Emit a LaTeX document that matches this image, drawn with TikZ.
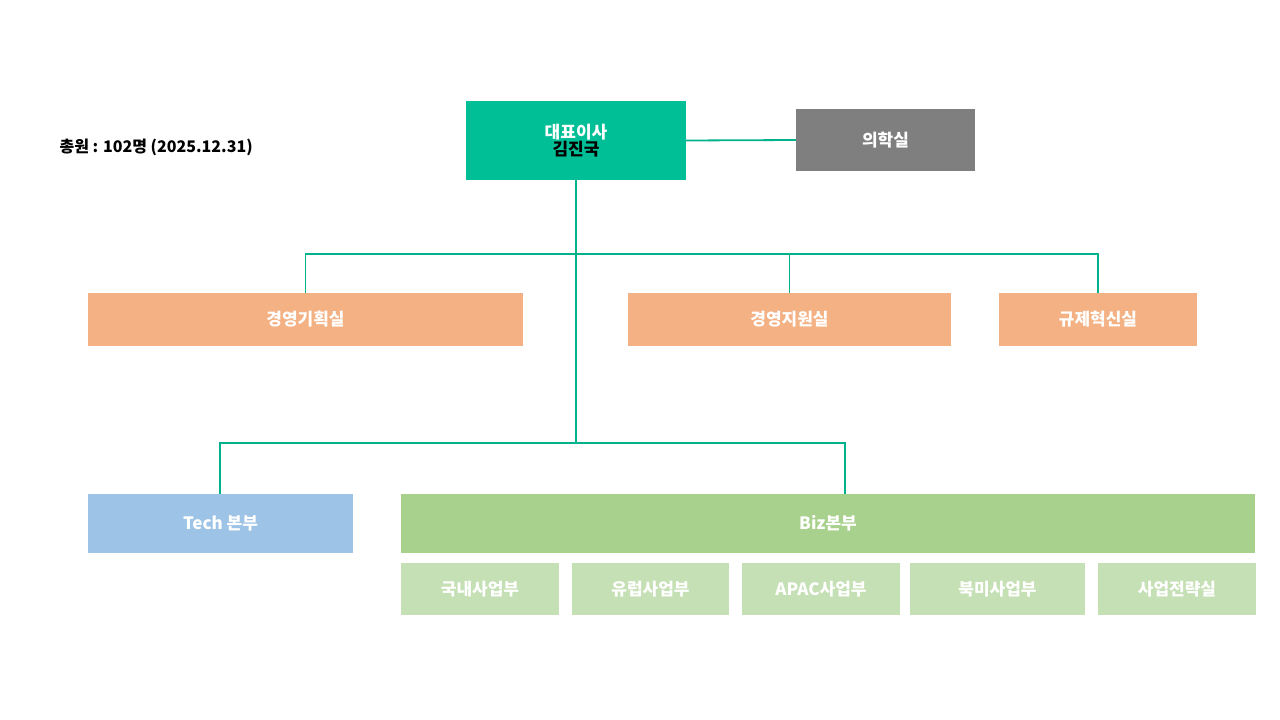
\documentclass[tikz,border=0pt]{standalone}
\usepackage{fontspec}
\setmainfont{Noto Sans CJK KR}
\begin{document}
\begin{tikzpicture}[x=1pt,y=-1pt,
  box/.style={draw=none,inner sep=0pt,font=\fontsize{17}{20}\selectfont\bfseries,text=white},
  ln/.style={draw={rgb,255:red,0;green,178;blue,140},line width=1.8pt}]
\definecolor{teal}{RGB}{0,190,150}
\definecolor{gry}{RGB}{127,127,127}
\definecolor{salmon}{RGB}{244,177,131}
\definecolor{blu}{RGB}{157,195,230}
\definecolor{grn}{RGB}{169,209,142}
\definecolor{lgrn}{RGB}{197,224,180}
\useasboundingbox (0,0) rectangle (1280,720);
\newcommand{\bx}[6]{\node[box,fill=#5,minimum width=#3-#2,minimum height=#4-#1,align=center] (#6) at ({(#2+#3)/2},{(#1+#4)/2})}
\bx{101}{466}{686}{180}{teal}{ceo}{\textcolor{white}{대표이사}\\[-3pt]\textcolor{black}{김진국}};
\bx{109}{796}{975}{171}{gry}{med}{의학실};
\bx{293}{88}{523}{346}{salmon}{plan}{경영기획실};
\bx{293}{628}{951}{346}{salmon}{supp}{경영지원실};
\bx{293}{999}{1197}{346}{salmon}{reg}{규제혁신실};
\bx{494}{88}{353}{553}{blu}{tech}{Tech 본부};
\bx{494}{401}{1255}{553}{grn}{biz}{Biz본부};
\bx{563}{401}{559}{615}{lgrn}{s1}{국내사업부};
\bx{563}{572}{729}{615}{lgrn}{s2}{유럽사업부};
\bx{563}{742}{900}{615}{lgrn}{s3}{APAC사업부};
\bx{563}{910}{1085}{615}{lgrn}{s4}{북미사업부};
\bx{563}{1098}{1256}{615}{lgrn}{s5}{사업전략실};
\node[anchor=west,font=\fontsize{16}{18}\selectfont\bfseries] (tot) at (56,147) {총원 : 102명 (2025.12.31)};
\coordinate (j1) at (576,254);
\coordinate (j2) at (576,443);
\draw[ln] (ceo.east) -- (med.west);
\draw[ln] (ceo.south) -- (j2);
\draw[ln] (j1) -| (plan.north);
\draw[ln] (j1) -| (reg.north);
\draw[ln] (supp.north) -- (supp.north |- j1);
\draw[ln] (j2) -| (tech.north -| 220,0);
\draw[ln] (j2) -| (biz.north -| 845,0);
\end{tikzpicture}
\end{document}
